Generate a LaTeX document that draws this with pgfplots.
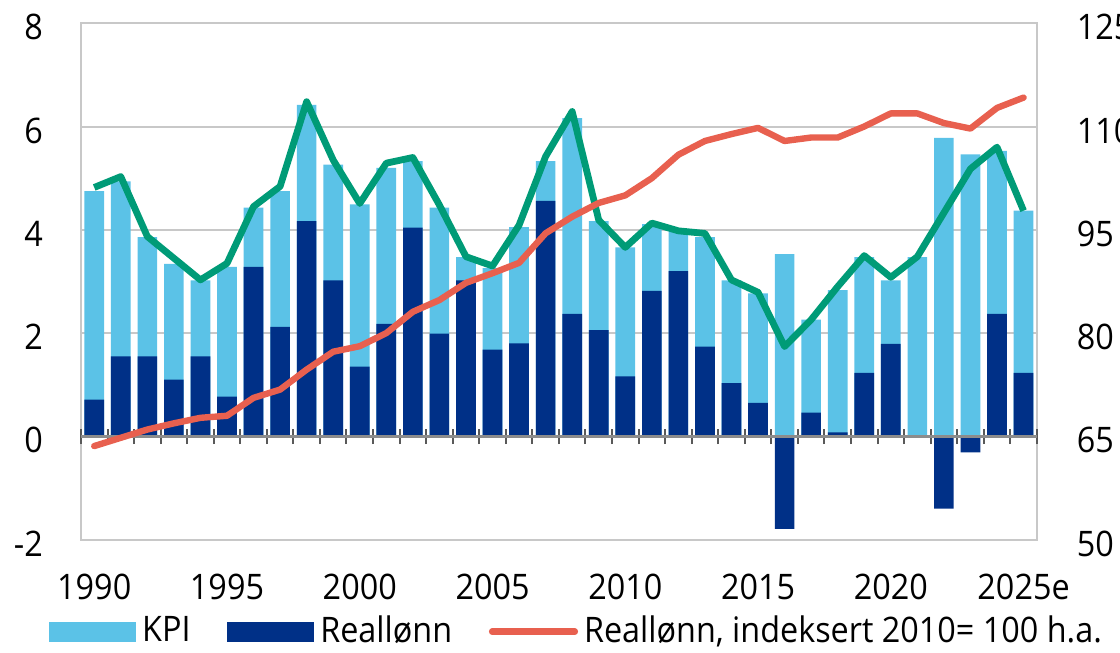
\documentclass[border=0pt]{standalone}
\usepackage{fontspec}
\setmainfont{Open Sans}[FakeStretch=0.92]
\usepackage{pgfplots}
\pgfplotsset{compat=1.18}
\usepackage{pgfplotstable}
\usetikzlibrary{calc}

\definecolor{kpicol}{HTML}{5BC2E7}
\definecolor{realcol}{HTML}{003087}
\definecolor{nomcol}{HTML}{009B77}
\definecolor{idxcol}{HTML}{E8604F}
\definecolor{framecol}{HTML}{C8C8C8}
\definecolor{zerocol}{HTML}{8C8C8C}

% kpi = KPI, real = reallønn, nom = nominell lønnsvekst, idx = reallønn indeks (h.a.)
\pgfplotstableread{
year kpi  real  nom  idx
1990 4.04  0.71 4.82  63.6
1991 3.39  1.55 5.03  64.8
1992 2.31  1.55 3.87  66.0
1993 2.24  1.10 3.45  66.9
1994 1.47  1.55 3.03  67.7
1995 2.51  0.77 3.35  68.0
1996 1.15  3.28 4.45  70.6
1997 2.63  2.12 4.84  71.8
1998 2.25  4.17 6.48  74.7
1999 2.24  3.02 5.35  77.3
2000 3.14  1.35 4.51  78.1
2001 3.02  2.18 5.29  80.0
2002 1.29  4.04 5.40  83.1
2003 2.44  1.99 4.48  84.8
2004 0.45  3.02 3.48  87.3
2005 1.58  1.68 3.30  88.7
2006 2.25  1.80 4.09  90.2
2007 0.77  4.56 5.42  94.5
2008 3.79  2.37 6.29  96.9
2009 2.11  2.06 4.19  98.9
2010 2.50  1.16 3.66 100.0
2011 1.29  2.82 4.13 102.5
2012 0.77  3.20 3.98 105.9
2013 2.12  1.74 3.93 107.9
2014 1.99  1.03 3.03 108.9
2015 2.12  0.65 2.79 109.8
2016 3.53 -1.79 1.74 107.9
2017 1.80  0.46 2.26 108.4
2018 2.75  0.08 2.90 108.4
2019 2.24  1.23 3.50 110.0
2020 1.23  1.79 3.08 111.9
2021 3.47  0.00 3.48 111.9
2022 5.78 -1.40 4.33 110.5
2023 5.46 -0.31 5.18 109.7
2024 3.16  2.37 5.60 112.7
2025 3.14  1.23 4.37 114.2
}\data

\pgfplotsset{
  common/.style={
    scale only axis, width=239.1pt, height=129.2pt,
    xmin=1989.5, xmax=2025.5, ymin=-2, ymax=8,
    /pgf/number format/assume math mode=true,
    tick label style={font=\fontsize{8.8}{10}\selectfont},
  },
}

\begin{document}
\begin{tikzpicture}
% main axis: bars and nominal line
\begin{axis}[common, name=main,
  axis line style={framecol, line width=0.5pt},
  ytick={-2,0,...,8}, ymajorgrids,
  grid style={framecol, line width=0.5pt},
  xtick={1990,1995,...,2025},
  xticklabels={1990,1995,2000,2005,2010,2015,2020,2025e},
  major tick length=0pt,
  yticklabel style={xshift=-6pt, yshift=-1pt},
  xticklabel style={yshift=-5pt},
  ybar, bar width=0.74, bar shift=0pt,
  legend style={at={(axis description cs:-0.034,-0.178)}, anchor=west,
    draw=none, fill=none, inner sep=0pt, legend columns=-1,
    font=\fontsize{8.8}{10}\selectfont,
    /tikz/every even column/.append style={column sep=7.7pt},
    nodes={inner xsep=1.5pt}},
]
\addplot[fill=kpicol, draw=none,
  legend image code/.code={\fill[kpicol] (0pt,-2.5pt) rectangle (21.75pt,2.5pt);}]
  table[x=year, y expr={\thisrow{kpi}+max(\thisrow{real},0)}] {\data};
\addlegendentry{KPI}
\addplot[fill=realcol, draw=none,
  legend image code/.code={\fill[realcol] (0pt,-2.5pt) rectangle (21.75pt,2.5pt);}]
  table[x=year, y=real] {\data};
\addlegendentry{Reallønn}
\addplot[sharp plot, nomcol, line width=1.7pt, line join=round, mark=none, forget plot]
  table[x=year, y=nom] {\data};
\addlegendimage{legend image code/.code={\draw[idxcol, line width=1.6pt, line cap=round] (0.8pt,0pt) -- (21.5pt,0pt);}}
\addlegendentry{Reallønn, indeksert 2010= 100 h.a.}
\end{axis}

% zero line with category ticks
\begin{axis}[common,
  axis x line=middle, axis y line=none,
  x axis line style={-, zerocol, line width=0.6pt},
  xtick={1989.5,1990.5,...,2025.5}, xticklabels={,,},
  tick align=center, major tick length=3.8pt,
  xtick style={black!65, line width=0.5pt},
]
\end{axis}

% right axis: real wage index
\begin{axis}[common, ymin=50, ymax=125,
  axis y line*=right, hide x axis,
  y axis line style={draw=none},
  ytick={50,65,...,125}, major tick length=0pt,
  yticklabel style={xshift=6.5pt, yshift=-1pt},
]
\addplot[idxcol, line width=1.6pt, line join=round, line cap=round, mark=none]
  table[x=year, y=idx] {\data};
\end{axis}

\pgfresetboundingbox
\path ($(main.south west)+(-20.25pt,-28.25pt)$) rectangle ($(main.north east)+(20.8pt,5.8pt)$);
\end{tikzpicture}
\end{document}
